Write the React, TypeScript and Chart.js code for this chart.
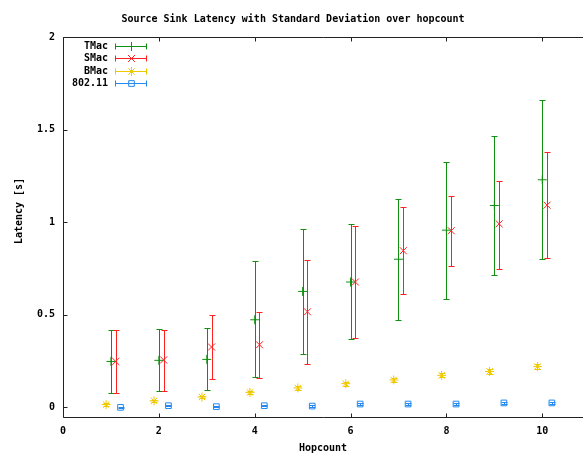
import { useEffect, useRef } from "react";
import { Chart, registerables } from "chart.js";
import { drawPoint } from "chart.js/helpers";

Chart.register(...registerables);

const TITLE = "Source Sink Latency with Standard Deviation over hopcount";
const X_TITLE = "Hopcount";
const Y_TITLE = "Latency [s]";

const hops = [1, 2, 3, 4, 5, 6, 7, 8, 9, 10];
const xTicks = [0, 2, 4, 6, 8, 10];
const yTicks = [0, 0.5, 1, 1.5, 2];

const tmacMean = [0.248, 0.254, 0.259, 0.473, 0.626, 0.677, 0.8, 0.957, 1.09, 1.229];
const tmacLow = [0.079, 0.09, 0.095, 0.162, 0.29, 0.371, 0.473, 0.585, 0.713, 0.799];
const tmacHigh = [0.418, 0.423, 0.428, 0.788, 0.963, 0.988, 1.126, 1.326, 1.465, 1.662];

const smacMean = [0.248, 0.256, 0.326, 0.338, 0.516, 0.677, 0.846, 0.954, 0.991, 1.092];
const smacLow = [0.079, 0.086, 0.153, 0.157, 0.234, 0.376, 0.612, 0.765, 0.749, 0.804];
const smacHigh = [0.418, 0.418, 0.5, 0.513, 0.795, 0.982, 1.081, 1.142, 1.225, 1.378];

const bmacMean = [0.015, 0.035, 0.056, 0.081, 0.105, 0.128, 0.148, 0.173, 0.194, 0.22];
const bmacLow = [0.009, 0.028, 0.048, 0.073, 0.096, 0.118, 0.138, 0.162, 0.182, 0.207];
const bmacHigh = [0.021, 0.042, 0.064, 0.089, 0.114, 0.138, 0.158, 0.184, 0.206, 0.233];

const wifiMean = [0.0, 0.009, 0.004, 0.009, 0.007, 0.018, 0.018, 0.018, 0.024, 0.024];
const wifiLow = [-0.004, 0.005, 0.0, 0.005, 0.003, 0.014, 0.014, 0.014, 0.02, 0.02];
const wifiHigh = [0.004, 0.013, 0.008, 0.013, 0.011, 0.022, 0.022, 0.022, 0.028, 0.028];

const FONT = '"DejaVu Sans Mono", monospace';

const series = [
  { label: "TMac", mean: tmacMean, low: tmacLow, high: tmacHigh, offset: 0, color: "#0f900f", style: "cross", radius: 4.5 },
  { label: "SMac", mean: smacMean, low: smacLow, high: smacHigh, offset: 0.1, color: "#ff2020", style: "crossRot", radius: 5 },
  { label: "BMac", mean: bmacMean, low: bmacLow, high: bmacHigh, offset: -0.1, color: "#f0c800", style: "star", radius: 4.5 },
  { label: "802.11", mean: wifiMean, low: wifiLow, high: wifiHigh, offset: 0.2, color: "#2288ee", style: "rect", radius: 4 },
];

const px = (v: number) => Math.round(v) + 0.5;

const errorBarPlugin = {
  id: "errorBars",
  beforeDatasetsDraw(chart: any) {
    const { ctx, chartArea } = chart;
    const xs = chart.scales.x;
    const ys = chart.scales.y;
    ctx.save();
    ctx.beginPath();
    ctx.rect(chartArea.left, chartArea.top, chartArea.right - chartArea.left, chartArea.bottom - chartArea.top);
    ctx.clip();
    ctx.lineWidth = 1;
    chart.data.datasets.forEach((ds: any) => {
      ctx.strokeStyle = ds.borderColor;
      ds.data.forEach((pt: any, i: number) => {
        const x = px(xs.getPixelForValue(pt.x));
        const yl = px(ys.getPixelForValue(ds.errLow[i]));
        const yh = px(ys.getPixelForValue(ds.errHigh[i]));
        ctx.beginPath();
        ctx.moveTo(x, yl);
        ctx.lineTo(x, yh);
        ctx.moveTo(x - 3, yl);
        ctx.lineTo(x + 3, yl);
        ctx.moveTo(x - 3, yh);
        ctx.lineTo(x + 3, yh);
        ctx.stroke();
      });
    });
    ctx.restore();
  },
};

const framePlugin = {
  id: "frame",
  afterDraw(chart: any) {
    const { ctx, chartArea } = chart;
    const xs = chart.scales.x;
    const ys = chart.scales.y;
    const L = px(chartArea.left);
    const R = chartArea.right;
    const T = px(chartArea.top);
    const B = px(chartArea.bottom);
    ctx.save();
    ctx.strokeStyle = "#222";
    ctx.lineWidth = 1;
    ctx.beginPath();
    ctx.moveTo(L, T);
    ctx.lineTo(R, T);
    ctx.moveTo(L, T);
    ctx.lineTo(L, B);
    ctx.lineTo(R, B);
    xTicks.forEach((v) => {
      const x = px(xs.getPixelForValue(v));
      ctx.moveTo(x, B);
      ctx.lineTo(x, B - 4);
      ctx.moveTo(x, T);
      ctx.lineTo(x, T + 4);
    });
    yTicks.forEach((v) => {
      const y = px(ys.getPixelForValue(v));
      ctx.moveTo(L, y);
      ctx.lineTo(L + 4, y);
    });
    ctx.stroke();

    // titles
    ctx.fillStyle = "#000";
    ctx.font = `bold 10px ${FONT}`;
    ctx.textAlign = "center";
    ctx.textBaseline = "middle";
    ctx.fillText(TITLE, 293, 19);
    ctx.fillText(X_TITLE, (chartArea.left + chartArea.right) / 2, 448);
    ctx.save();
    ctx.translate(19, 211);
    ctx.rotate(-Math.PI / 2);
    ctx.fillText(Y_TITLE, 0, 0);
    ctx.restore();

    // legend
    chart.data.datasets.forEach((ds: any, i: number) => {
      const y = Math.round(chartArea.top + 9 + i * 12.4);
      ctx.fillStyle = "#000";
      ctx.textAlign = "right";
      ctx.textBaseline = "middle";
      ctx.fillText(ds.label, 108, y);
      const yy = y + 0.5;
      ctx.strokeStyle = ds.borderColor;
      ctx.lineWidth = 1;
      ctx.beginPath();
      ctx.moveTo(115.5, yy);
      ctx.lineTo(146.5, yy);
      ctx.moveTo(115.5, yy - 3);
      ctx.lineTo(115.5, yy + 3);
      ctx.moveTo(146.5, yy - 3);
      ctx.lineTo(146.5, yy + 3);
      ctx.stroke();
      ctx.fillStyle = "#ffffff";
      drawPoint(ctx, { pointStyle: ds.pointStyle, radius: ds.pointRadius, borderWidth: 1, rotation: 0 } as any, 131.5, yy);
      if (ds.pointStyle === "rect") {
        ctx.beginPath();
        ctx.moveTo(131.5 - 2.5, yy);
        ctx.lineTo(131.5 + 2.5, yy);
        ctx.stroke();
      }
    });
    ctx.restore();
  },
};

export default function App() {
  const ref = useRef<HTMLCanvasElement>(null);
  useEffect(() => {
    if (!ref.current) return;
    const chart = new Chart(ref.current, {
      type: "scatter",
      data: {
        datasets: series.map((s) => ({
          label: s.label,
          data: hops.map((h, i) => ({ x: h + s.offset, y: s.mean[i] })),
          errLow: s.low,
          errHigh: s.high,
          borderColor: s.color,
          backgroundColor: "rgba(0,0,0,0)",
          pointStyle: s.style,
          pointRadius: s.radius,
          pointBorderWidth: 1,
          showLine: false,
        })) as any,
      },
      options: {
        responsive: false,
        animation: false,
        events: [],
        layout: { autoPadding: false, padding: { top: 37, left: 0, right: 0, bottom: 0 } },
        plugins: { legend: { display: false }, title: { display: false }, tooltip: { enabled: false } },
        scales: {
          x: {
            type: "linear",
            min: 0,
            max: 10.85,
            afterBuildTicks: (scale: any) => {
              scale.ticks = xTicks.map((v) => ({ value: v }));
            },
            afterFit: (scale: any) => {
              scale.height = 37;
            },
            grid: { display: false, drawTicks: false },
            border: { display: false },
            ticks: {
              autoSkip: false,
              maxRotation: 0,
              padding: 8,
              color: "#000",
              font: { family: FONT, size: 10, weight: "bold" },
              callback: (v: any) => String(v),
            },
          },
          y: {
            type: "linear",
            min: -0.052,
            max: 2,
            afterBuildTicks: (scale: any) => {
              scale.ticks = yTicks.map((v) => ({ value: v }));
            },
            afterFit: (scale: any) => {
              scale.width = 63;
            },
            grid: { display: false, drawTicks: false },
            border: { display: false },
            ticks: {
              autoSkip: false,
              padding: 8,
              color: "#000",
              font: { family: FONT, size: 10, weight: "bold" },
              callback: (v: any) => String(v),
            },
          },
        },
      },
      plugins: [errorBarPlugin, framePlugin],
    });
    return () => chart.destroy();
  }, []);
  return (
    <div style={{ position: "fixed", left: 0, top: 0, width: 583, height: 454, background: "#fff" }}>
      <canvas ref={ref} width={583} height={454} style={{ display: "block" }} />
    </div>
  );
}
